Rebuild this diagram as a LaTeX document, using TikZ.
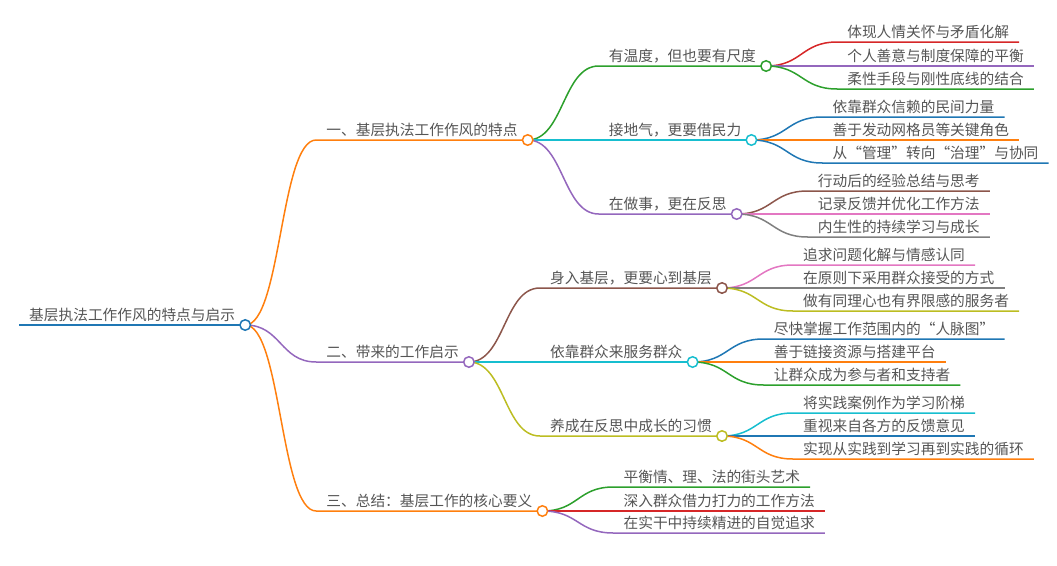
\documentclass[tikz,border=0pt]{standalone}
\usepackage{fontspec}
\setmainfont{Noto Sans CJK SC}
\usepackage{tikz}
\usetikzlibrary{positioning}
\definecolor{txtgray}{HTML}{555555}
\definecolor{cblue}{HTML}{1F77B4}
\definecolor{corange}{HTML}{FF7F0E}
\definecolor{cgreen}{HTML}{2CA02C}
\definecolor{cred}{HTML}{D62728}
\definecolor{cpurple}{HTML}{9467BD}
\definecolor{cbrown}{HTML}{8C564B}
\definecolor{cpink}{HTML}{E377C2}
\definecolor{cgray}{HTML}{7F7F7F}
\definecolor{colive}{HTML}{BCBD22}
\definecolor{ccyan}{HTML}{17BECF}
\tikzstyle{item} = [anchor=south west, inner xsep=10pt, inner ysep=4pt, text depth=0pt, text=txtgray, font=\fontsize{14.7pt}{17pt}\selectfont]
\tikzstyle{titik} = [circle, draw, fill=white, line width=1.5pt, minimum size=10.5pt, inner sep=0pt]
\tikzstyle{link} = [line width=1.5pt]

\begin{document}
\begin{tikzpicture}[x=1pt, y=-1pt]
		\useasboundingbox (0,0) rectangle (1057,565);
		% Akar
		\node[item] (akar) at (19,325) {基层执法工作作风的特点与启示};
		\draw[link, cblue] (akar.south west) -- (akar.south east);
		
		% Cabang utama
		\node[item] (cabang1) at ([shift={(71,-185)}]akar.south east) {一、基层执法工作作风的特点};
		\node[item] (cabang2) at ([shift={(71,37)}]akar.south east) {二、带来的工作启示};
		\node[item] (cabang3) at ([shift={(71,186)}]akar.south east) {三、总结：基层工作的核心要义};
		\draw[link, corange] (akar.south east) .. controls +(36,0) and +(-36,0) .. (cabang1.south west) -- (cabang1.south east);
		\draw[link, cpurple] (akar.south east) .. controls +(36,0) and +(-36,0) .. (cabang2.south west) -- (cabang2.south east);
		\draw[link, corange] (akar.south east) .. controls +(36,0) and +(-36,0) .. (cabang3.south west) -- (cabang3.south east);
		
		% Ranting cabang 1
		\node[item] (ranting11) at ([shift={(71,-74)}]cabang1.south east) {有温度，但也要有尺度};
		\node[item] (ranting12) at ([shift={(71,0)}]cabang1.south east) {接地气，更要借民力};
		\node[item] (ranting13) at ([shift={(71,74)}]cabang1.south east) {在做事，更在反思};
		\draw[link, cgreen] (cabang1.south east) .. controls +(36,0) and +(-36,0) .. (ranting11.south west) -- (ranting11.south east);
		\draw[link, ccyan] (cabang1.south east) .. controls +(36,0) and +(-36,0) .. (ranting12.south west) -- (ranting12.south east);
		\draw[link, cpurple] (cabang1.south east) .. controls +(36,0) and +(-36,0) .. (ranting13.south west) -- (ranting13.south east);
		
		% Daun ranting 11
		\node[item] (daun111) at ([shift={(71,-24)}]ranting11.south east) {体现人情关怀与矛盾化解};
		\node[item] (daun112) at ([shift={(71,0)}]ranting11.south east) {个人善意与制度保障的平衡};
		\node[item] (daun113) at ([shift={(71,23)}]ranting11.south east) {柔性手段与刚性底线的结合};
		\draw[link, cred] (ranting11.south east) .. controls +(36,0) and +(-36,0) .. (daun111.south west) -- (daun111.south east);
		\draw[link, cpurple] (ranting11.south east) .. controls +(36,0) and +(-36,0) .. (daun112.south west) -- (daun112.south east);
		\draw[link, cgreen] (ranting11.south east) .. controls +(36,0) and +(-36,0) .. (daun113.south west) -- (daun113.south east);
		
		% Daun ranting 12
		\node[item] (daun121) at ([shift={(71,-23)}]ranting12.south east) {依靠群众信赖的民间力量};
		\node[item] (daun122) at ([shift={(71,0)}]ranting12.south east) {善于发动网格员等关键角色};
		\node[item] (daun123) at ([shift={(71,23)}]ranting12.south east) {从“管理”转向“治理”与协同};
		\draw[link, cblue] (ranting12.south east) .. controls +(36,0) and +(-36,0) .. (daun121.south west) -- (daun121.south east);
		\draw[link, corange] (ranting12.south east) .. controls +(36,0) and +(-36,0) .. (daun122.south west) -- (daun122.south east);
		\draw[link, cblue] (ranting12.south east) .. controls +(36,0) and +(-36,0) .. (daun123.south west) -- (daun123.south east);
		
		% Daun ranting 13
		\node[item] (daun131) at ([shift={(71,-23)}]ranting13.south east) {行动后的经验总结与思考};
		\node[item] (daun132) at ([shift={(71,0)}]ranting13.south east) {记录反馈并优化工作方法};
		\node[item] (daun133) at ([shift={(71,23)}]ranting13.south east) {内生性的持续学习与成长};
		\draw[link, cbrown] (ranting13.south east) .. controls +(36,0) and +(-36,0) .. (daun131.south west) -- (daun131.south east);
		\draw[link, cpink] (ranting13.south east) .. controls +(36,0) and +(-36,0) .. (daun132.south west) -- (daun132.south east);
		\draw[link, cgray] (ranting13.south east) .. controls +(36,0) and +(-36,0) .. (daun133.south west) -- (daun133.south east);
		
		% Ranting cabang 2
		\node[item] (ranting21) at ([shift={(71,-74)}]cabang2.south east) {身入基层，更要心到基层};
		\node[item] (ranting22) at ([shift={(71,0)}]cabang2.south east) {依靠群众来服务群众};
		\node[item] (ranting23) at ([shift={(71,74)}]cabang2.south east) {养成在反思中成长的习惯};
		\draw[link, cbrown] (cabang2.south east) .. controls +(36,0) and +(-36,0) .. (ranting21.south west) -- (ranting21.south east);
		\draw[link, ccyan] (cabang2.south east) .. controls +(36,0) and +(-36,0) .. (ranting22.south west) -- (ranting22.south east);
		\draw[link, colive] (cabang2.south east) .. controls +(36,0) and +(-36,0) .. (ranting23.south west) -- (ranting23.south east);
		
		% Daun ranting 21
		\node[item] (daun211) at ([shift={(71,-23)}]ranting21.south east) {追求问题化解与情感认同};
		\node[item] (daun212) at ([shift={(71,0)}]ranting21.south east) {在原则下采用群众接受的方式};
		\node[item] (daun213) at ([shift={(71,23)}]ranting21.south east) {做有同理心也有界限感的服务者};
		\draw[link, cpink] (ranting21.south east) .. controls +(36,0) and +(-36,0) .. (daun211.south west) -- (daun211.south east);
		\draw[link, cgray] (ranting21.south east) .. controls +(36,0) and +(-36,0) .. (daun212.south west) -- (daun212.south east);
		\draw[link, colive] (ranting21.south east) .. controls +(36,0) and +(-36,0) .. (daun213.south west) -- (daun213.south east);
		
		% Daun ranting 22
		\node[item] (daun221) at ([shift={(71,-23)}]ranting22.south east) {尽快掌握工作范围内的“人脉图”};
		\node[item] (daun222) at ([shift={(71,0)}]ranting22.south east) {善于链接资源与搭建平台};
		\node[item] (daun223) at ([shift={(71,23)}]ranting22.south east) {让群众成为参与者和支持者};
		\draw[link, cblue] (ranting22.south east) .. controls +(36,0) and +(-36,0) .. (daun221.south west) -- (daun221.south east);
		\draw[link, corange] (ranting22.south east) .. controls +(36,0) and +(-36,0) .. (daun222.south west) -- (daun222.south east);
		\draw[link, cgreen] (ranting22.south east) .. controls +(36,0) and +(-36,0) .. (daun223.south west) -- (daun223.south east);
		
		% Daun ranting 23
		\node[item] (daun231) at ([shift={(71,-23)}]ranting23.south east) {将实践案例作为学习阶梯};
		\node[item] (daun232) at ([shift={(71,0)}]ranting23.south east) {重视来自各方的反馈意见};
		\node[item] (daun233) at ([shift={(71,23)}]ranting23.south east) {实现从实践到学习再到实践的循环};
		\draw[link, ccyan] (ranting23.south east) .. controls +(36,0) and +(-36,0) .. (daun231.south west) -- (daun231.south east);
		\draw[link, cblue] (ranting23.south east) .. controls +(36,0) and +(-36,0) .. (daun232.south west) -- (daun232.south east);
		\draw[link, corange] (ranting23.south east) .. controls +(36,0) and +(-36,0) .. (daun233.south west) -- (daun233.south east);
		
		% Daun cabang 3
		\node[item] (daun31) at ([shift={(71,-24)}]cabang3.south east) {平衡情、理、法的街头艺术};
		\node[item] (daun32) at ([shift={(71,0)}]cabang3.south east) {深入群众借力打力的工作方法};
		\node[item] (daun33) at ([shift={(71,22)}]cabang3.south east) {在实干中持续精进的自觉追求};
		\draw[link, cgreen] (cabang3.south east) .. controls +(36,0) and +(-36,0) .. (daun31.south west) -- (daun31.south east);
		\draw[link, cred] (cabang3.south east) .. controls +(36,0) and +(-36,0) .. (daun32.south west) -- (daun32.south east);
		\draw[link, cpurple] (cabang3.south east) .. controls +(36,0) and +(-36,0) .. (daun33.south west) -- (daun33.south east);
		
		% Titik
		\node[titik, draw=cblue] (titikakar) at (akar.south east) {};
		\node[titik, draw=corange] (titik1) at (cabang1.south east) {};
		\node[titik, draw=cpurple] (titik2) at (cabang2.south east) {};
		\node[titik, draw=corange] (titik3) at (cabang3.south east) {};
		\node[titik, draw=cgreen] (titik11) at (ranting11.south east) {};
		\node[titik, draw=ccyan] (titik12) at (ranting12.south east) {};
		\node[titik, draw=cpurple] (titik13) at (ranting13.south east) {};
		\node[titik, draw=cbrown] (titik21) at (ranting21.south east) {};
		\node[titik, draw=ccyan] (titik22) at (ranting22.south east) {};
		\node[titik, draw=colive] (titik23) at (ranting23.south east) {};
	\end{tikzpicture}
\end{document}
